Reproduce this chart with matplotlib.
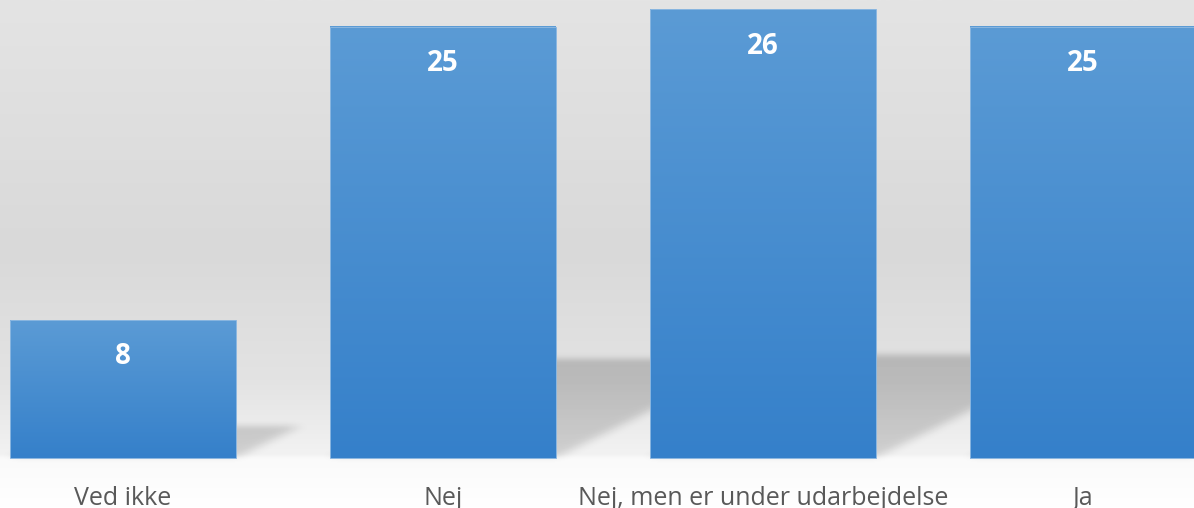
import numpy as np
import matplotlib.pyplot as plt
from matplotlib.colors import LinearSegmentedColormap, to_rgb
from matplotlib.patches import Rectangle

categories = ["Ved ikke", "Nej", "Nej, men er under udarbejdelse", "Ja"]
values = [8, 25, 26, 25]

bar_width = 0.706
xlim = (-0.384, 3.347)
ylim = (-2.9, 26.55)

fig = plt.figure(figsize=(11.94, 5.08), dpi=100)
ax = fig.add_axes([0, 0, 1, 1])
ax.set_xlim(xlim)
ax.set_ylim(ylim)
ax.axis("off")

# background: gray wall getting darker towards the middle, light floor below baseline
nx, ny = 900, 500
gy = np.linspace(*ylim, ny)
stops_y = [ylim[0], -0.05, 0.2, 4.5, 12, ylim[1]]
stops_c = ["#ffffff", "#fafafa", "#f2f2f2", "#e3e3e3", "#d9d9d9", "#e4e4e4"]
rgb = np.array([to_rgb(c) for c in stops_c])
bg = np.stack([np.interp(gy, stops_y, rgb[:, k]) for k in range(3)], axis=-1)
bg = bg[:, None, :]
ax.imshow(bg, extent=(*xlim, *ylim), origin="lower", aspect="auto", zorder=0)

# soft perspective shadows cast to the right of each bar
gx = np.linspace(*xlim, nx)
X, Y = np.meshgrid(gx, gy)
mask = np.zeros_like(X)
slope_y = 0.23      # shadow height per unit of bar height
shift_x = 0.0248    # shadow shift (category units) per unit of bar height
for i, v in enumerate(values):
    left, right = i - bar_width / 2, i + bar_width / 2
    t = Y / slope_y
    inside = (Y >= 0) & (t <= v) & (X >= left + shift_x * t) & (X <= right + shift_x * t)
    mask[inside] = 0.75 + 0.25 * np.clip(t[inside] / 26, 0, 1)

def blur(a, sigma, axis):
    r = int(3 * sigma)
    k = np.exp(-0.5 * (np.arange(-r, r + 1) / sigma) ** 2)
    k /= k.sum()
    return np.apply_along_axis(lambda m: np.convolve(m, k, mode="same"), axis, a)

mask = blur(mask, 5, 1)
mask = blur(mask, 3, 0)
shadow = np.zeros((ny, nx, 4))
shadow[..., 3] = mask * 0.19
ax.imshow(shadow, extent=(*xlim, *ylim), origin="lower", aspect="auto", zorder=1)

# bars with vertical gradient
bar_cmap = LinearSegmentedColormap.from_list("bar", ["#3580ca", "#5b9bd5"])
grad = np.linspace(0, 1, 256).reshape(-1, 1)
for i, v in enumerate(values):
    left, right = i - bar_width / 2, i + bar_width / 2
    ax.imshow(grad, cmap=bar_cmap, extent=(left, right, 0, v), origin="lower",
              aspect="auto", zorder=2)
    ax.add_patch(Rectangle((left, 0), bar_width, v, facecolor="none",
                           edgecolor="#8ab6e0", linewidth=0.7, zorder=2.5))
    ax.text(i, v - 2.58, str(v), ha="center", va="baseline", color="white",
            fontsize=20, fontweight="bold", family="Open Sans", zorder=3)
    ax.text(i, -2.72, categories[i], ha="center", va="baseline", color="#595959",
            fontsize=18, family="Open Sans", zorder=3)

ax.set_xlim(xlim)
ax.set_ylim(ylim)
fig.savefig("out.png", dpi=100)
